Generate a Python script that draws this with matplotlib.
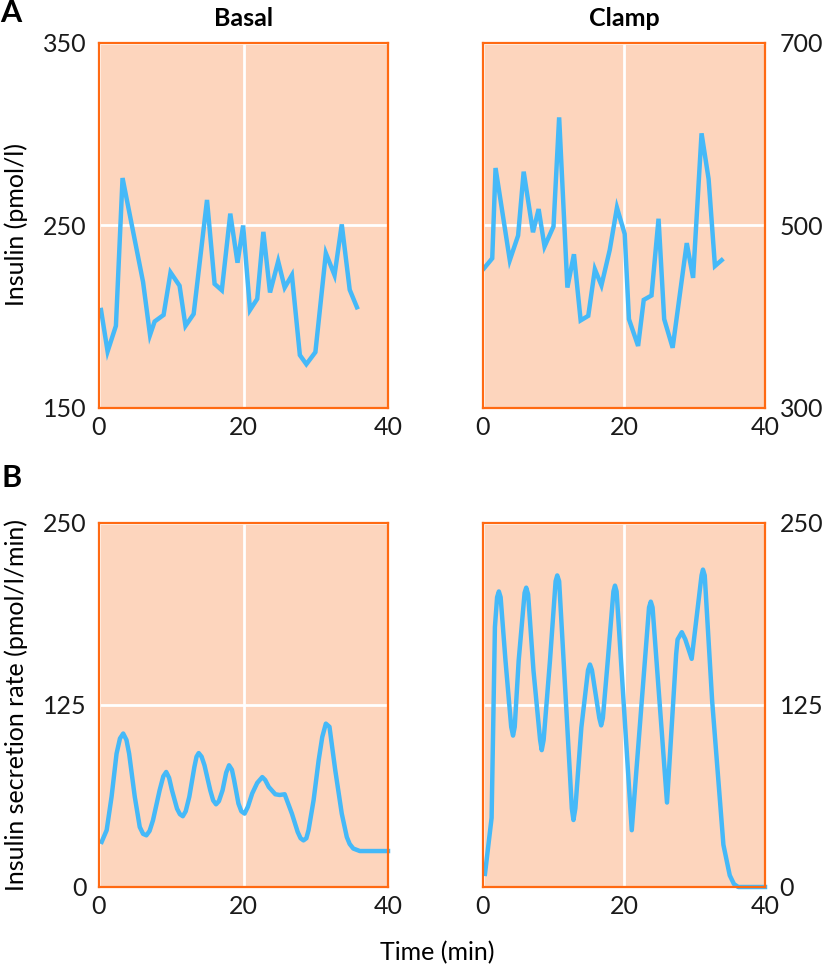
import matplotlib
matplotlib.use("Agg")
import matplotlib.pyplot as plt

# ---- data ----
basal_ins_t = [0.28, 1.19, 2.34, 3.26, 6.1, 7.06, 7.7, 8.94, 9.9, 11.15, 11.97, 13.1, 14.95,
               16.0, 17.0, 18.17, 19.17, 19.95, 20.9, 21.9, 22.75, 23.67, 24.8, 25.7, 26.7,
               27.8, 28.7, 29.95, 31.4, 32.6, 33.6, 34.7, 35.7]
basal_ins = [203.7, 181, 195, 276, 219, 190, 197.4, 201, 224.3, 217, 195, 201.5, 264,
             218, 214.5, 256.5, 229.6, 250, 203.7, 209.8, 246.5, 213.3, 230.4, 216, 222.8,
             179, 174, 180.6, 234.8, 222.8, 250.6, 214.8, 205.2]

clamp_ins_t = [0.14, 1.31, 1.78, 3.8, 4.98, 5.77, 7.09, 7.89, 8.73, 10.0, 10.8, 11.97, 12.9,
               13.85, 14.93, 15.87, 16.8, 17.98, 19.0, 20.1, 20.7, 22.0, 22.8, 23.9, 24.9,
               25.7, 26.9, 28.9, 29.8, 31.0, 32.0, 32.9, 33.85]
clamp_ins = [453, 464, 563, 462, 489, 559, 492.6, 518, 477, 499, 618.5, 432, 468.5,
             396, 401, 452, 434.4, 473.3, 519.6, 490.7, 397.4, 368, 418.5, 423.3, 507.4,
             397.4, 366, 480.7, 442.6, 601, 551, 455.6, 462]

basal_isr_t = [0.37, 1.06, 1.74, 2.43, 2.9, 3.35, 3.8, 4.17, 4.95, 5.64, 6.1, 6.56, 7.0, 7.47,
               8.39, 8.9, 9.3, 9.7, 10.1, 10.8, 11.2, 11.6, 12.0, 12.5, 13.2, 13.5, 13.8, 14.2,
               14.6, 15.4, 15.8, 16.2, 16.6, 17.1, 17.6, 18.0, 18.4, 18.7, 19.3, 19.7, 20.15,
               20.6, 21.2, 21.9, 22.6, 23.0, 23.5, 24.4, 25.0, 25.7, 26.7, 27.5, 27.9, 28.3,
               28.7, 29.0, 29.7, 30.4, 30.9, 31.4, 31.9, 32.7, 33.6, 34.3, 34.7, 35.2, 36.1,
               40.0]
basal_isr = [31, 39, 62, 91.6, 102, 105.4, 101, 91.6, 62, 41.2, 36.5, 35.5, 38.5, 45.8,
             66.4, 76, 79, 75, 66.4, 53.8, 50, 48.6, 52, 62, 82.4, 89.5, 92, 89.5,
             83.6, 66.4, 59.5, 56.8, 59, 66.4, 78.5, 83.6, 80.5, 73.4, 57.3, 52, 50.4,
             55, 64.2, 71.5, 75.5, 73.5, 68.7, 63.7, 63.2, 63.7, 50.4, 37.8, 33.5, 32,
             33.5, 39, 59.6, 87, 103, 112.2, 110, 80.2, 50.4, 34.3, 29.5, 26.4, 24.7,
             24.7]

clamp_isr_t = [0.28, 1.22, 1.69, 2.0, 2.25, 2.5, 3.19, 4.0, 4.26, 4.5, 5.06, 5.9, 6.13, 6.4,
               7.16, 8.1, 8.33, 8.6, 9.5, 10.3, 10.53, 10.8, 11.7, 12.6, 12.83, 13.1, 13.95,
               14.9, 15.17, 15.45, 16.5, 16.76, 17.0, 17.7, 18.5, 18.72, 18.95, 21.1,
               23.55, 23.8, 24.05, 26.1, 27.4, 27.6, 28.2, 28.7, 29.6, 31.0, 31.2, 31.45,
               32.5, 34.1, 35.0, 35.6, 36.2, 40.0]
clamp_isr = [9, 47.5, 178.5, 199, 203, 199, 155.5, 110, 104, 110, 155.5, 202, 205.6, 201,
             148.6, 101, 94, 101, 155.5, 210, 214, 210, 132.5, 54, 46, 54, 109.5,
             149, 152.8, 149, 116, 111, 116, 155.5, 203, 207, 203, 39,
             192, 196, 192, 58, 160, 170, 175, 170, 156.7, 214, 218, 214,
             128, 29, 8, 2, 0, 0]

time_ticks = [0, 20, 40]
ins_basal_ticks = [150, 250, 350]
ins_clamp_ticks = [300, 500, 700]
isr_ticks = [0, 125, 250]

BG = "#FDD5BD"
SPINE = "#FF6A13"
LINE = "#45B9F8"
FONT = "Lato"
FS = 18

plt.rcParams['font.family'] = [FONT, 'DejaVu Sans']

fig = plt.figure(figsize=(8.25, 9.68), dpi=100)
W, H = 825, 968

def px_axes(left, top, right, bottom):
    return fig.add_axes([left / W, 1 - bottom / H, (right - left) / W, (bottom - top) / H])

def style(ax, yticks, right_side):
    ax.set_facecolor(BG)
    for s in ax.spines.values():
        s.set_color(SPINE)
        s.set_linewidth(1.6)
        s.set_zorder(5)
    ax.set_xlim(0, 40)
    ax.set_ylim(yticks[0], yticks[-1])
    ax.set_xticks(time_ticks)
    ax.set_yticks(yticks)
    ax.tick_params(length=0, labelsize=FS, colors="#1a1a1a")
    ax.tick_params(axis='x', pad=6)
    if right_side:
        ax.yaxis.tick_right()
        ax.tick_params(axis='y', pad=10.5)
    else:
        ax.tick_params(axis='y', pad=9)
    ax.grid(True, color="white", linewidth=2, zorder=1)
    ax.set_axisbelow(True)

ax1 = px_axes(99, 43, 388, 408)
ax2 = px_axes(483, 43, 765, 408)
ax3 = px_axes(99, 523, 388, 887)
ax4 = px_axes(483, 523, 765, 887)

style(ax1, ins_basal_ticks, False)
style(ax2, ins_clamp_ticks, True)
style(ax3, isr_ticks, False)
style(ax4, isr_ticks, True)

lw = 3.2
ax1.plot(basal_ins_t, basal_ins, color=LINE, lw=lw, zorder=3, solid_joinstyle='miter')
ax2.plot(clamp_ins_t, clamp_ins, color=LINE, lw=lw, zorder=3, solid_joinstyle='miter')
ax3.plot(basal_isr_t, basal_isr, color=LINE, lw=lw, zorder=3, solid_joinstyle='round', clip_on=False)
ax4.plot(clamp_isr_t, clamp_isr, color=LINE, lw=lw, zorder=3, solid_joinstyle='round', clip_on=False)

fig.text((99 + 388) / 2 / W, 1 - 18 / H, "Basal", fontsize=FS, fontweight='bold',
         va='center', ha='center')
fig.text((483 + 765) / 2 / W, 1 - 18 / H, "Clamp", fontsize=FS, fontweight='bold',
         va='center', ha='center')

fig.text(0 / W, 1 - 13 / H, "A", fontsize=22, fontweight='bold', va='center', ha='left')
fig.text(2 / W, 1 - 478 / H, "B", fontsize=22, fontweight='bold', va='center', ha='left')

fig.text(16 / W, 1 - 224 / H, "Insulin (pmol/l)", rotation=90, fontsize=FS,
         va='center', ha='center')
fig.text(16 / W, 1 - 705 / H, "Insulin secretion rate (pmol/l/min)", rotation=90,
         fontsize=FS, va='center', ha='center')
fig.text(437 / W, 1 - 953 / H, "Time (min)", fontsize=FS, va='center', ha='center')

fig.savefig("out.png", dpi=100)
